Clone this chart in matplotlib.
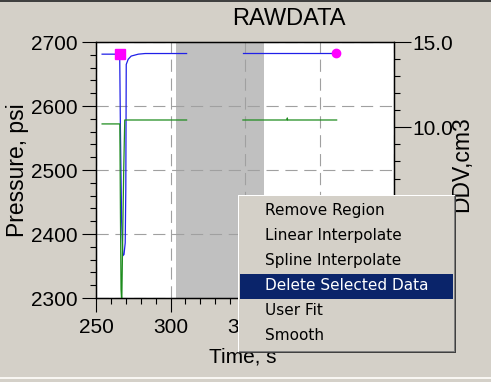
import matplotlib
matplotlib.use("Agg")
import matplotlib.pyplot as plt
from matplotlib.patches import Rectangle
from matplotlib.ticker import MultipleLocator, FuncFormatter

plt.rcParams['font.family'] = ['Liberation Sans', 'DejaVu Sans']

W, H = 491, 382

# pressure trace (blue, left axis), split around the deleted region
p_time1 = [254.1, 265.9, 266.4, 267.2, 268.0, 268.8, 269.6, 270.0, 270.3, 271.6, 273.6, 278.4, 283.0, 310.8]
p_val1 = [2681, 2681, 2560, 2420, 2366, 2368, 2386, 2470, 2665, 2673, 2678, 2681, 2682, 2682]
p_time2 = [348.6, 411.5]
p_val2 = [2683, 2683]

# DDV trace (green, right axis)
d_time1 = [254.1, 266.0, 266.4, 266.8, 267.3, 267.9, 268.6, 269.3, 310.8]
d_val1 = [10.2, 10.2, 5.0, 0.5, -0.3, 3.5, 7.5, 10.43, 10.43]
d_time2 = [348.6, 378.2, 378.4, 378.6, 411.5]
d_val2 = [10.43, 10.43, 10.55, 10.43, 10.43]

# selected region and end markers
sel_start, sel_end = 304.0, 362.8
start_pt = (265.9, 2681)
end_pt = (411.0, 2683)

menu_items = ["Remove Region", "Linear Interpolate", "Spline Interpolate",
              "Delete Selected Data", "User Fit", "Smooth"]
highlighted = 3

# tick labels that sit fully under the popup menu
x_hidden = [400, 450]
ddv_hidden = [0, 5]

BG = '#d4d0c8'


def fx(x):
    return x / W


def fy(y):
    return 1 - y / H


def box(x, y, w, h, color, z=10):
    fig.add_artist(Rectangle((fx(x), fy(y + h)), w / W, h / H, transform=fig.transFigure,
                             facecolor=color, edgecolor='none', zorder=z))


fig = plt.figure(figsize=(W / 100, H / 100), dpi=100, facecolor=BG)
ax = fig.add_axes([fx(96), fy(298), (394 - 96) / W, (298 - 42) / H])
ax.set_facecolor('white')
ax.set_xlim(250, 450)
ax.set_ylim(2300, 2700)

ax.axvspan(sel_start, sel_end, color='#c0c0c0', lw=0, zorder=0.5)
ax.grid(True, which='major', color='#a0a0a0', linestyle=(0, (11, 6)), linewidth=0.8)

ax.plot(p_time1, p_val1, color='#2020e8', lw=0.9, zorder=3)
ax.plot(p_time2, p_val2, color='#2020e8', lw=0.9, zorder=3)
ax.plot(*start_pt, marker='s', ms=7, color='#ff00ff', mec='#ff00ff', zorder=4)
ax.plot(*end_pt, marker='o', ms=6, color='#ff00ff', mec='#ff00ff', zorder=4)

ax.xaxis.set_major_locator(MultipleLocator(50))
ax.xaxis.set_minor_locator(MultipleLocator(10))
ax.xaxis.set_major_formatter(FuncFormatter(
    lambda v, pos: '' if round(v) in x_hidden else '%d' % round(v)))
ax.yaxis.set_major_locator(MultipleLocator(100))
ax.yaxis.set_minor_locator(MultipleLocator(20))
ax.tick_params(which='major', length=10, width=0.8, labelsize=15)
ax.tick_params(which='minor', length=4.5, width=0.8)
ax.tick_params(axis='y', which='major', pad=3.5)
ax.tick_params(axis='x', which='major', pad=4.5)

ax2 = ax.twinx()
ax2.set_ylim(0, 15)
ax2.plot(d_time1, d_val1, color='#1e8c1e', lw=0.9)
ax2.plot(d_time2, d_val2, color='#1e8c1e', lw=0.9)
ax2.yaxis.set_major_locator(MultipleLocator(5))
ax2.yaxis.set_minor_locator(MultipleLocator(1))
ax2.yaxis.set_major_formatter(FuncFormatter(
    lambda v, pos: '' if round(v) in ddv_hidden else '%.1f' % v))
ax2.tick_params(which='major', length=12, width=0.8, labelsize=15, pad=1)
ax2.tick_params(which='minor', length=4.5, width=0.8)

for a in (ax, ax2):
    for s in a.spines.values():
        s.set_linewidth(0.9)
        s.set_color('black')

fig.text(fx(289), fy(19), "RAWDATA", fontsize=17, ha='center', va='center')
fig.text(fx(18), fy(170), "Pressure, psi", fontsize=16.5, rotation=90, ha='center', va='center')
fig.text(fx(243), fy(357), "Time, s", fontsize=15, ha='center', va='center')
fig.text(fx(462), fy(164), "DDV,cm3", fontsize=16.5, rotation=90, ha='center', va='center')

# window edges
box(0, 0, W, 2, '#404040', z=5)
box(0, 377, W, 1.5, '#f8f6f2', z=5)

# context menu
mx, my, mw, mh = 238, 195, 218, 158
box(mx, my, mw, mh, '#404040')
box(mx, my, mw - 1, mh - 1, '#ffffff', z=10.1)
box(mx + 1, my + 1, mw - 2, mh - 2, '#808080', z=10.2)
box(mx + 1, my + 1, mw - 3, mh - 3, BG, z=10.3)
box(240, 274, 213, 25, '#0a246a', z=10.4)

for i, item in enumerate(menu_items):
    y = 210 + i * 25.2
    fig.text(fx(265), fy(y), item, fontsize=11, family='DejaVu Sans',
             color='white' if i == highlighted else 'black',
             ha='left', va='center', zorder=11)

fig.savefig('out.png', dpi=100, facecolor=BG)
